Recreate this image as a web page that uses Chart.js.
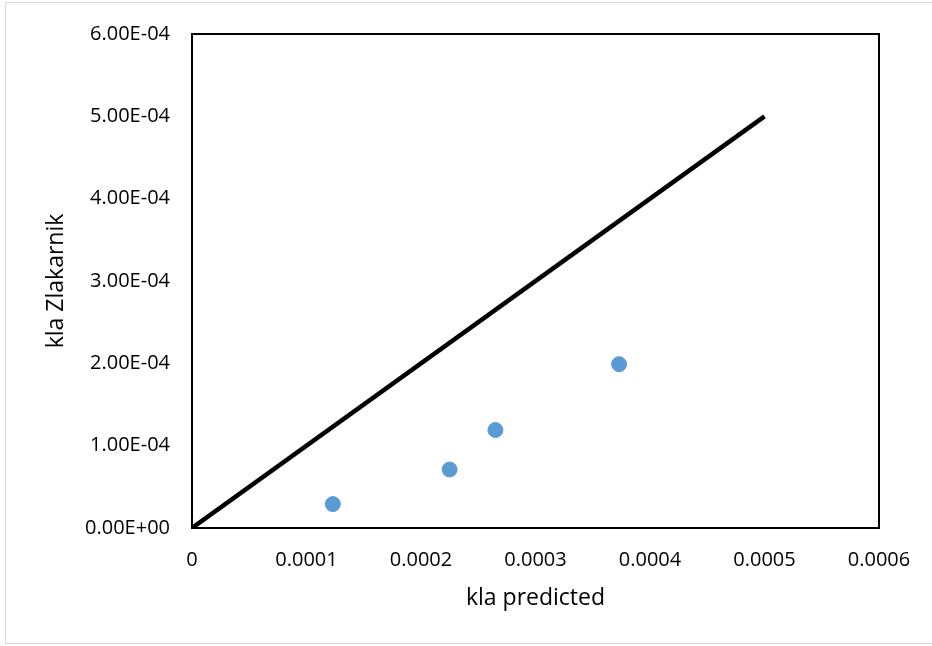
<!DOCTYPE html>
<html>
<head>
<meta charset="utf-8">
<script src="https://cdn.jsdelivr.net/npm/chart.js@4/dist/chart.umd.min.js"></script>
<style>
  html, body { margin: 0; padding: 0; background: #fff; }
  canvas { display: block; }
</style>
</head>
<body>
<canvas id="kla" width="932" height="646"></canvas>
<script>
// measured points: predicted kla vs Zlakarnik correlation
const klaPredicted = [0.000123, 0.000225, 0.000265, 0.000373];
const klaZlakarnik = [0.000029, 0.000071, 0.000119, 0.000199];
// parity line y = x
const parityX = [0, 0.0005];
const parityY = [0, 0.0005];

const axisMin = 0;
const axisMax = 0.0006;
const axisStep = 0.0001;

const FONT = "'Open Sans', 'Noto Sans', sans-serif";

function sciLabel(v) {
  if (Math.abs(v) < 1e-12) return '0.00E+00';
  const exp = Math.floor(Math.log10(Math.abs(v)) + 1e-9);
  const mant = v / Math.pow(10, exp);
  const sign = exp < 0 ? '-' : '+';
  return mant.toFixed(2) + 'E' + sign + String(Math.abs(exp)).padStart(2, '0');
}

// black box around the plot + light frame around the whole chart
const frames = {
  id: 'frames',
  afterDraw(chart) {
    const { ctx, chartArea: a } = chart;
    ctx.save();
    ctx.strokeStyle = '#d9d9d9';
    ctx.lineWidth = 1;
    ctx.strokeRect(5.5, 2.5, 940, 641);
    ctx.strokeStyle = '#000';
    ctx.lineWidth = 2;
    ctx.strokeRect(a.left, a.top, a.right - a.left, a.bottom - a.top);
    ctx.restore();
  }
};

new Chart(document.getElementById('kla'), {
  type: 'scatter',
  data: {
    datasets: [
      {
        type: 'line',
        data: parityX.map((x, i) => ({ x: x, y: parityY[i] })),
        borderColor: '#000',
        borderWidth: 4.5,
        pointRadius: 0,
        fill: false
      },
      {
        data: klaPredicted.map((x, i) => ({ x: x, y: klaZlakarnik[i] })),
        backgroundColor: '#5b9bd5',
        borderColor: '#5b9bd5',
        pointRadius: 7.5,
        pointHoverRadius: 7.5
      }
    ]
  },
  options: {
    responsive: false,
    animation: false,
    layout: { padding: { left: 43, top: 32, right: 53, bottom: 34 } },
    plugins: { legend: { display: false }, tooltip: { enabled: false } },
    scales: {
      x: {
        type: 'linear',
        min: axisMin,
        max: axisMax,
        afterFit: (s) => { s.height = 84; },
        grid: { display: false, drawTicks: false },
        border: { display: false },
        ticks: {
          stepSize: axisStep,
          padding: 20,
          color: '#000',
          font: { family: FONT, size: 20 },
          maxRotation: 0,
          callback: (v) => parseFloat(Number(v).toFixed(4)).toString()
        },
        title: {
          display: true,
          text: 'kla predicted',
          color: '#000',
          padding: 0,
          font: { family: FONT, size: 23 }
        }
      },
      y: {
        type: 'linear',
        min: axisMin,
        max: axisMax,
        afterFit: (s) => { s.width = 149; },
        grid: { display: false, drawTicks: false },
        border: { display: false },
        ticks: {
          stepSize: axisStep,
          padding: 22,
          color: '#000',
          font: { family: FONT, size: 20 },
          callback: (v) => sciLabel(Number(v))
        },
        title: {
          display: true,
          text: 'kla Zlakarnik',
          color: '#000',
          padding: 0,
          font: { family: FONT, size: 23 }
        }
      }
    }
  },
  plugins: [frames]
});
</script>
</body>
</html>
